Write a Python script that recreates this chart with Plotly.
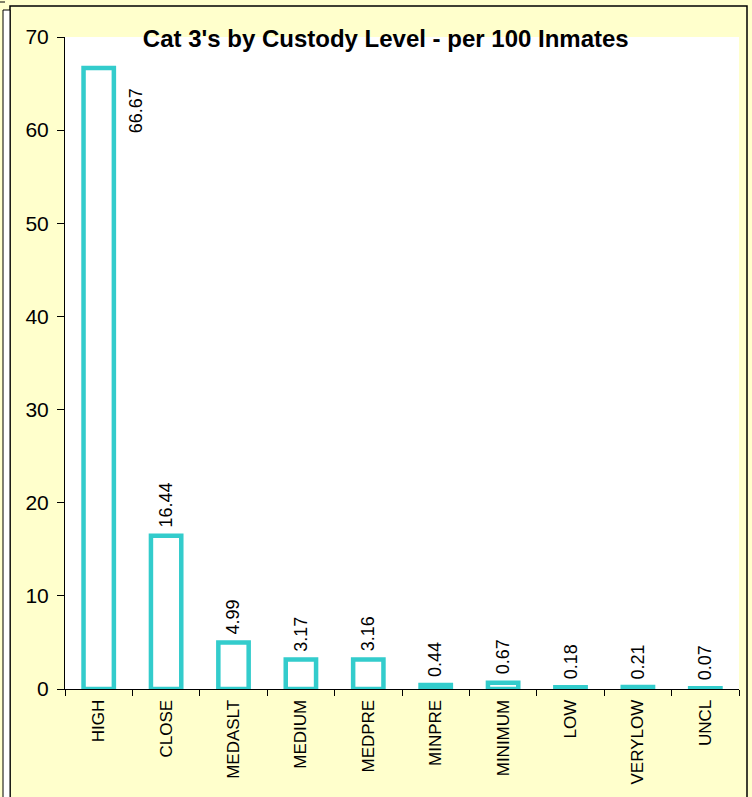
import plotly.graph_objects as go

categories = ["HIGH", "CLOSE", "MEDASLT", "MEDIUM", "MEDPRE", "MINPRE", "MINIMUM", "LOW", "VERYLOW", "UNCL"]
values = [66.67, 16.44, 4.99, 3.17, 3.16, 0.44, 0.67, 0.18, 0.21, 0.07]
labels = ["66.67", "16.44", "4.99", "3.17", "3.16", "0.44", "0.67", "0.18", "0.21", "0.07"]
y_ticks = [0, 10, 20, 30, 40, 50, 60, 70]

W, H = 752, 797
L, R, T, B = 65, 739, 37, 689
FONT = "Liberation Sans, Arial, sans-serif"

def px(x):
    return (x - L) / (R - L)

def py(y):
    return (B - y) / (B - T)

fig = go.Figure()
fig.add_trace(go.Bar(
    x=categories, y=values, width=0.45,
    marker=dict(color="white", line=dict(color="#33CCCC", width=4.5)),
    hoverinfo="x+y",
))

annotations = []
for i, (c, v, t) in enumerate(zip(categories, values, labels)):
    if i == 0:
        annotations.append(dict(x=c, y=v, text=t, textangle=-90, showarrow=False,
                                xanchor="center", yanchor="top", xshift=37, yshift=-18,
                                font=dict(family=FONT, size=18, color="black")))
    else:
        annotations.append(dict(x=c, y=v, text=t, textangle=-90, showarrow=False,
                                xanchor="center", yanchor="bottom", yshift=6,
                                font=dict(family=FONT, size=18, color="black")))

shapes = [
    dict(type="rect", xref="paper", yref="paper", x0=px(10), x1=px(747), y0=py(6), y1=py(820),
         line=dict(color="black", width=1.5), fillcolor="rgba(0,0,0,0)", layer="below"),
    dict(type="rect", xref="paper", yref="paper", x0=px(3), x1=px(10), y0=py(10), y1=py(820),
         line=dict(color="black", width=1), fillcolor="white", layer="below"),
    dict(type="line", xref="paper", yref="paper", x0=px(0), x1=px(5), y0=py(2), y1=py(2),
         line=dict(color="black", width=1)),
]

fig.update_layout(
    width=W, height=H,
    margin=dict(l=L, r=W - R, t=T, b=H - B, pad=0),
    paper_bgcolor="#FFFFCC",
    plot_bgcolor="white",
    showlegend=False,
    title=dict(text="<b>Cat 3's by Custody Level - per 100 Inmates</b>",
               x=0.513, xanchor="center", y=1 - 39 / H, yanchor="middle",
               font=dict(family=FONT, size=24, color="black")),
    font=dict(family=FONT, color="black"),
    annotations=annotations,
    shapes=shapes,
    bargap=0.55,
)
fig.update_yaxes(range=[0, 70], tickvals=y_ticks, showgrid=False, zeroline=False,
                 showline=True, linecolor="black", linewidth=1,
                 ticks="outside", ticklen=7, tickcolor="black", ticklabelstandoff=4,
                 tickfont=dict(family=FONT, size=21, color="black"))
fig.update_xaxes(showgrid=False, showline=True, linecolor="black", linewidth=1,
                 ticks="outside", ticklen=6, tickcolor="black", tickson="boundaries",
                 ticklabelstandoff=3,
                 tickangle=-90, tickfont=dict(family=FONT, size=17, color="black"))

fig.write_html("out.html", config={"displayModeBar": False},
               post_script="document.body.style.margin='0';document.body.style.overflow='hidden';")
